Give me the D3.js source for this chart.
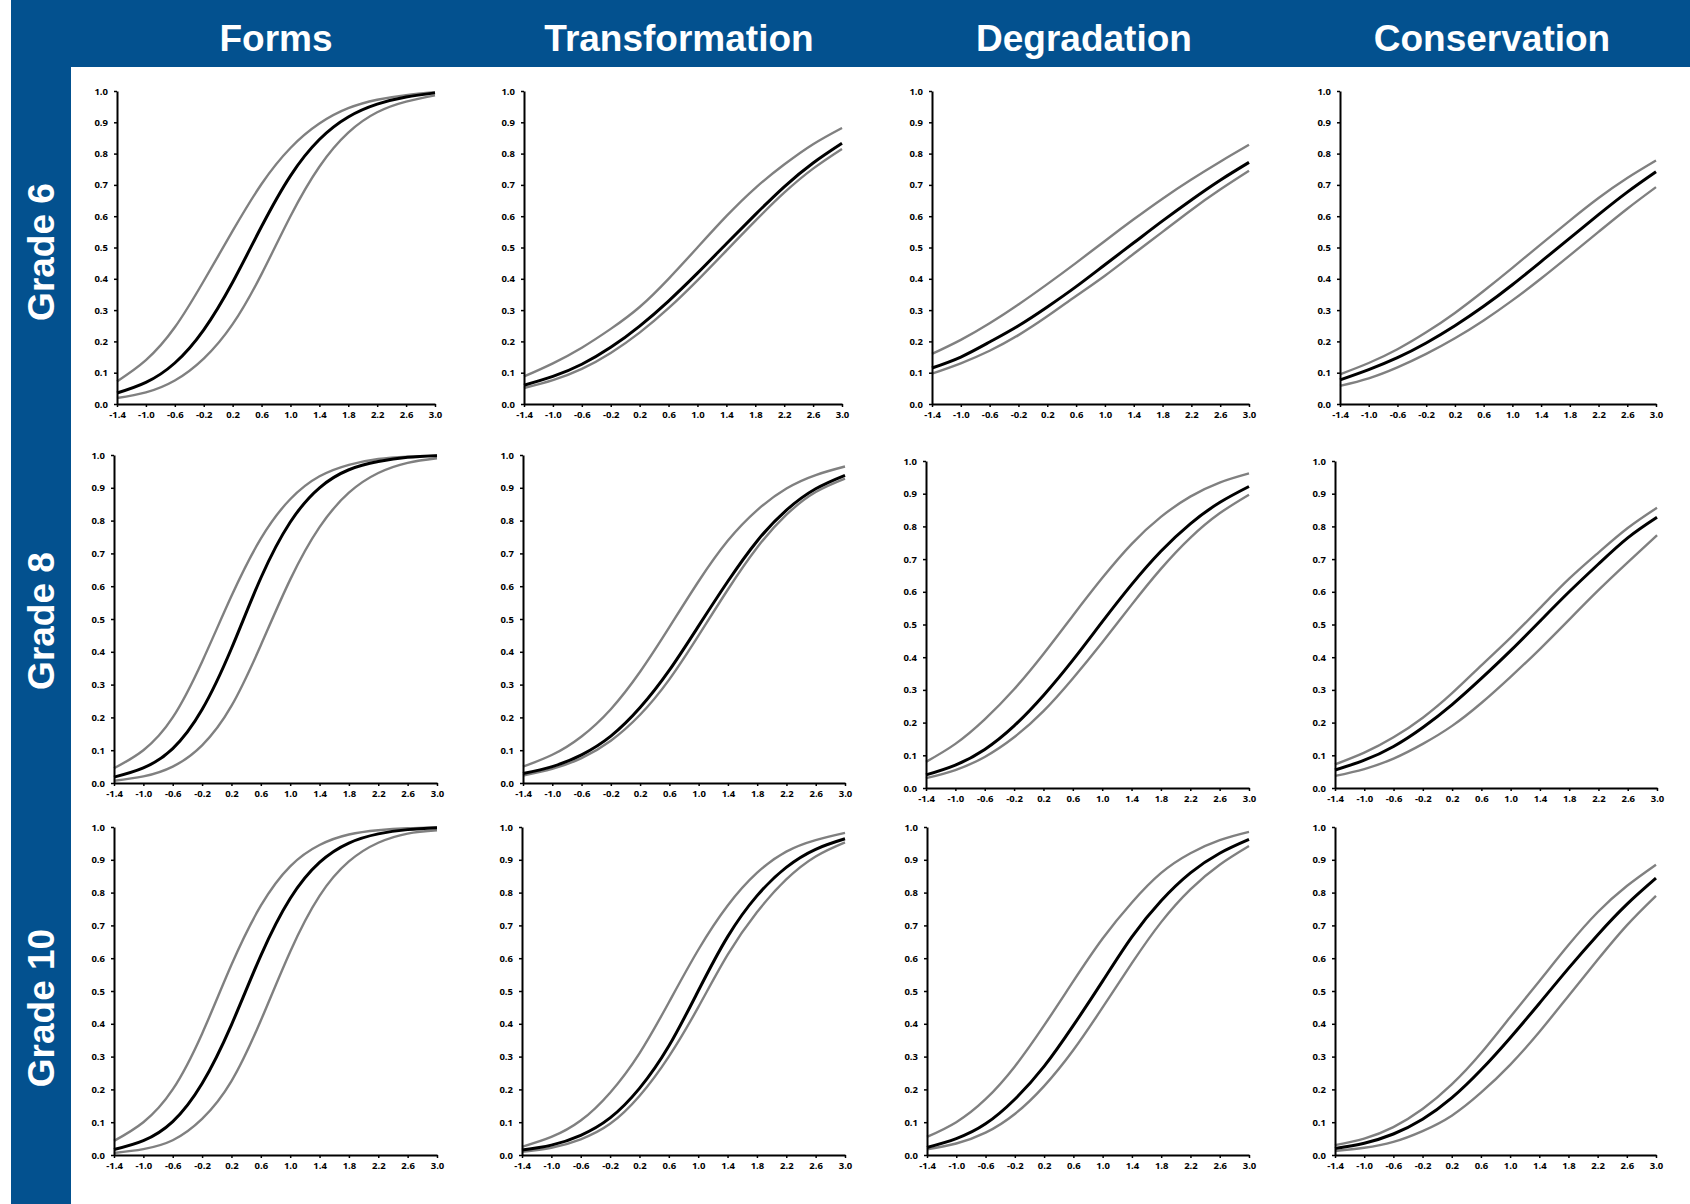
<!DOCTYPE html>
<html>
<head>
<meta charset="utf-8">
<script src="https://cdnjs.cloudflare.com/ajax/libs/d3/7.8.5/d3.min.js"></script>
<style>
  html, body { margin: 0; padding: 0; background: #ffffff; }
  svg { display: block; }
  .tick text { font-family: "Open Sans", "Liberation Sans", sans-serif; font-weight: 700; font-size: 9.5px; fill: #000; }
</style>
</head>
<body>
<svg id="chart" width="1690" height="1204"></svg>
<script>
// Ability scale and probability ticks
const xTicks = [-1.4, -1.0, -0.6, -0.2, 0.2, 0.6, 1.0, 1.4, 1.8, 2.2, 2.6, 3.0];
const yTicks = [0, 0.1, 0.2, 0.3, 0.4, 0.5, 0.6, 0.7, 0.8, 0.9, 1.0];
const topics = ["Forms", "Transformation", "Degradation", "Conservation"];
const grades = ["Grade 6", "Grade 8", "Grade 10"];

// Probability curves sampled at xTicks: estimate plus upper and lower bounds
const g6FormsUpper = [0.072, 0.140, 0.245, 0.393, 0.553, 0.703, 0.818, 0.896, 0.945, 0.972, 0.987, 0.996];
const g6FormsEst   = [0.035, 0.069, 0.131, 0.237, 0.389, 0.567, 0.729, 0.845, 0.917, 0.958, 0.981, 0.994];
const g6FormsLower = [0.019, 0.037, 0.075, 0.145, 0.255, 0.415, 0.600, 0.758, 0.867, 0.932, 0.966, 0.986];

const g6TransUpper = [0.088, 0.130, 0.180, 0.240, 0.310, 0.400, 0.500, 0.600, 0.690, 0.765, 0.830, 0.882];
const g6TransEst   = [0.060, 0.088, 0.127, 0.181, 0.249, 0.329, 0.418, 0.512, 0.605, 0.694, 0.770, 0.833];
const g6TransLower = [0.051, 0.076, 0.112, 0.163, 0.228, 0.306, 0.395, 0.490, 0.585, 0.675, 0.752, 0.815];

const g6DegUpper = [0.160, 0.205, 0.258, 0.318, 0.383, 0.451, 0.521, 0.590, 0.656, 0.717, 0.774, 0.828];
const g6DegEst   = [0.115, 0.150, 0.198, 0.250, 0.310, 0.375, 0.445, 0.515, 0.585, 0.652, 0.715, 0.772];
const g6DegLower = [0.097, 0.130, 0.170, 0.220, 0.280, 0.345, 0.410, 0.480, 0.550, 0.620, 0.685, 0.745];

const g6ConsUpper = [0.095, 0.131, 0.175, 0.229, 0.291, 0.361, 0.435, 0.511, 0.586, 0.658, 0.722, 0.778];
const g6ConsEst   = [0.077, 0.110, 0.148, 0.195, 0.250, 0.312, 0.381, 0.455, 0.530, 0.605, 0.677, 0.742];
const g6ConsLower = [0.058, 0.082, 0.117, 0.160, 0.210, 0.267, 0.331, 0.401, 0.475, 0.550, 0.624, 0.693];

const g8FormsUpper = [0.045, 0.100, 0.200, 0.370, 0.570, 0.745, 0.865, 0.935, 0.970, 0.988, 0.995, 0.999];
const g8FormsEst   = [0.018, 0.046, 0.105, 0.224, 0.410, 0.625, 0.795, 0.900, 0.955, 0.980, 0.993, 0.998];
const g8FormsLower = [0.007, 0.020, 0.050, 0.115, 0.235, 0.420, 0.620, 0.780, 0.885, 0.945, 0.976, 0.990];

const g8TransUpper = [0.050, 0.086, 0.142, 0.225, 0.339, 0.475, 0.615, 0.739, 0.832, 0.898, 0.939, 0.965];
const g8TransEst   = [0.029, 0.050, 0.086, 0.143, 0.230, 0.344, 0.479, 0.615, 0.738, 0.832, 0.897, 0.938];
const g8TransLower = [0.023, 0.043, 0.076, 0.129, 0.208, 0.316, 0.450, 0.590, 0.718, 0.818, 0.887, 0.928];

const g8DegUpper = [0.080, 0.135, 0.210, 0.302, 0.410, 0.527, 0.642, 0.746, 0.829, 0.891, 0.934, 0.962];
const g8DegEst   = [0.040, 0.070, 0.118, 0.190, 0.283, 0.391, 0.508, 0.622, 0.724, 0.808, 0.873, 0.922];
const g8DegLower = [0.030, 0.055, 0.095, 0.155, 0.235, 0.335, 0.445, 0.560, 0.670, 0.765, 0.840, 0.897];

const g8ConsUpper = [0.072, 0.108, 0.155, 0.215, 0.290, 0.375, 0.460, 0.550, 0.640, 0.720, 0.795, 0.857];
const g8ConsEst   = [0.055, 0.085, 0.127, 0.185, 0.255, 0.335, 0.420, 0.510, 0.600, 0.685, 0.765, 0.828];
const g8ConsLower = [0.037, 0.058, 0.090, 0.135, 0.190, 0.260, 0.340, 0.425, 0.515, 0.605, 0.690, 0.773];

const g10FormsUpper = [0.043, 0.100, 0.200, 0.370, 0.580, 0.760, 0.880, 0.945, 0.977, 0.990, 0.996, 0.999];
const g10FormsEst   = [0.017, 0.044, 0.102, 0.218, 0.397, 0.608, 0.782, 0.892, 0.951, 0.979, 0.992, 0.998];
const g10FormsLower = [0.006, 0.018, 0.045, 0.110, 0.225, 0.410, 0.620, 0.790, 0.895, 0.952, 0.980, 0.990];

const g10TransUpper = [0.025, 0.055, 0.105, 0.190, 0.310, 0.465, 0.625, 0.760, 0.860, 0.925, 0.960, 0.982];
const g10TransEst   = [0.015, 0.030, 0.060, 0.113, 0.203, 0.332, 0.500, 0.665, 0.790, 0.877, 0.932, 0.964];
const g10TransLower = [0.010, 0.022, 0.048, 0.095, 0.180, 0.300, 0.450, 0.610, 0.740, 0.840, 0.910, 0.953];

const g10DegUpper = [0.055, 0.100, 0.170, 0.270, 0.395, 0.530, 0.660, 0.770, 0.860, 0.920, 0.960, 0.985];
const g10DegEst   = [0.023, 0.050, 0.095, 0.170, 0.270, 0.395, 0.530, 0.665, 0.775, 0.860, 0.920, 0.962];
const g10DegLower = [0.017, 0.035, 0.068, 0.125, 0.210, 0.320, 0.450, 0.585, 0.710, 0.810, 0.885, 0.942];

const g10ConsUpper = [0.030, 0.050, 0.085, 0.140, 0.215, 0.310, 0.420, 0.530, 0.640, 0.740, 0.820, 0.885];
const g10ConsEst   = [0.020, 0.036, 0.064, 0.109, 0.174, 0.259, 0.357, 0.462, 0.569, 0.671, 0.764, 0.844];
const g10ConsLower = [0.012, 0.022, 0.040, 0.073, 0.120, 0.190, 0.275, 0.375, 0.485, 0.595, 0.700, 0.790];

const curves = [
  [[g6FormsUpper, g6FormsEst, g6FormsLower], [g6TransUpper, g6TransEst, g6TransLower],
   [g6DegUpper, g6DegEst, g6DegLower], [g6ConsUpper, g6ConsEst, g6ConsLower]],
  [[g8FormsUpper, g8FormsEst, g8FormsLower], [g8TransUpper, g8TransEst, g8TransLower],
   [g8DegUpper, g8DegEst, g8DegLower], [g8ConsUpper, g8ConsEst, g8ConsLower]],
  [[g10FormsUpper, g10FormsEst, g10FormsLower], [g10TransUpper, g10TransEst, g10TransLower],
   [g10DegUpper, g10DegEst, g10DegLower], [g10ConsUpper, g10ConsEst, g10ConsLower]]
];

// Plot boxes: left, right per column and top, bottom per row
const colBoxes = [
  [[117, 435], [524, 842], [932, 1249], [1340, 1656]],
  [[114, 437], [523, 845], [926, 1249], [1335, 1657]],
  [[114, 437], [522, 845], [927, 1249], [1335, 1656]]
];
const rowBoxes = [
  [[91, 404], [91, 404], [91, 404], [91, 404]],
  [[455, 783], [455, 783], [461, 788], [461, 788]],
  [[827, 1155], [827, 1155], [827, 1155], [827, 1155]]
];

const blue = "#03518f";
const svg = d3.select("#chart");

// Header band and grade band
svg.append("rect").attr("x", 11).attr("y", 0).attr("width", 1679).attr("height", 67).attr("fill", blue);
svg.append("rect").attr("x", 11).attr("y", 0).attr("width", 60).attr("height", 1204).attr("fill", blue);

const titleX = [276, 679, 1084, 1492];
svg.selectAll("text.topic").data(topics).join("text")
  .attr("class", "topic")
  .attr("x", (d, i) => titleX[i]).attr("y", 51)
  .attr("text-anchor", "middle")
  .attr("font-family", "'Liberation Sans', Arial, sans-serif")
  .attr("font-weight", 700).attr("font-size", 37).attr("fill", "#fff")
  .text(d => d);

const gradeY = [252, 621, 1008];
svg.selectAll("text.grade").data(grades).join("text")
  .attr("class", "grade")
  .attr("transform", (d, i) => `translate(54,${gradeY[i]}) rotate(-90)`)
  .attr("text-anchor", "middle")
  .attr("font-family", "'Liberation Sans', Arial, sans-serif")
  .attr("font-weight", 700).attr("font-size", 37).attr("fill", "#fff")
  .text(d => d);

const fmt = d => d.toFixed(1);

grades.forEach((g, r) => {
  topics.forEach((t, c) => {
    const [x0, x1] = colBoxes[r][c];
    const [y0, y1] = rowBoxes[r][c];
    const x = d3.scaleLinear().domain([-1.4, 3.0]).range([x0, x1]);
    const y = d3.scaleLinear().domain([0, 1]).range([y1, y0]);
    const panel = svg.append("g");

    const line = d3.line()
      .x((d, i) => x(xTicks[i]))
      .y(d => y(d))
      .curve(d3.curveNatural);

    const [upper, est, lower] = curves[r][c];
    [upper, lower].forEach(s => {
      panel.append("path").attr("d", line(s))
        .attr("fill", "none").attr("stroke", "#808080").attr("stroke-width", 2.4);
    });
    panel.append("path").attr("d", line(est))
      .attr("fill", "none").attr("stroke", "#000").attr("stroke-width", 3);

    const xAxis = panel.append("g").attr("transform", `translate(0,${y1})`)
      .call(d3.axisBottom(x).tickValues(xTicks).tickFormat(fmt).tickSizeInner(3).tickSizeOuter(0).tickPadding(4));
    const yAxis = panel.append("g").attr("transform", `translate(${x0},0)`)
      .call(d3.axisLeft(y).tickValues(yTicks).tickFormat(fmt).tickSizeInner(3).tickSizeOuter(0).tickPadding(6));
    [xAxis, yAxis].forEach(a => {
      a.select(".domain").attr("stroke", "#000").attr("stroke-width", 2);
      a.selectAll(".tick line").attr("stroke", "#000").attr("stroke-width", 1.5);
      a.attr("font-family", null).attr("font-size", null);
    });
  });
});
</script>
</body>
</html>
